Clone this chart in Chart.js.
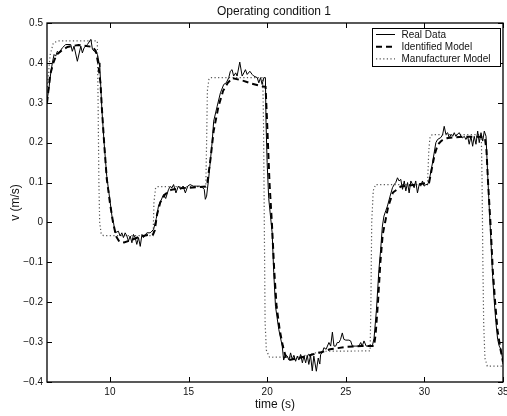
<!DOCTYPE html>
<html>
<head>
<meta charset="utf-8">
<script src="https://cdn.jsdelivr.net/npm/chart.js@4.4.0/dist/chart.umd.min.js"></script>
<style>
  body { margin: 0; background: #fff; }
  #myChart { display: block; }
</style>
</head>
<body>
<canvas id="myChart" width="507" height="416"></canvas>
<script>

const realT = [6.0, 6.13, 6.24, 6.34, 6.45, 6.55, 6.66, 6.76, 6.98, 7.19, 7.51, 7.61, 7.72, 7.93, 8.15, 8.25, 8.36, 8.57, 8.79, 8.89, 9.0, 9.21, 9.31,
    9.36, 9.49, 9.63, 9.80, 10.02, 10.15, 10.23, 10.33, 10.54, 10.65, 10.76, 10.86, 10.97, 11.08, 11.18, 11.29, 11.40, 11.50, 11.61, 11.71, 11.82, 11.93, 12.04, 12.14, 12.35, 12.56, 12.67,
    12.78, 12.95, 13.09, 13.25, 13.41, 13.55, 13.73, 13.84, 13.95, 14.05, 14.2, 14.35, 14.5, 14.65, 14.8, 14.95, 15.1, 15.3, 15.5, 15.7, 15.9, 16.0, 16.07,
    16.15, 16.28, 16.5, 16.6, 16.82, 17.03, 17.24, 17.4, 17.56, 17.66, 17.77, 17.87, 18.0, 18.09, 18.26, 18.41, 18.52, 18.62, 18.73, 18.9, 19.05, 19.15, 19.37, 19.47, 19.58, 19.68, 19.79, 19.89,
    19.93, 20.0, 20.1, 20.32, 20.42, 20.53, 20.74, 20.96, 21.05, 21.17, 21.28, 21.39, 21.49, 21.60, 21.7, 21.81, 21.92, 22.02, 22.13, 22.24, 22.34, 22.45, 22.55, 22.65, 22.76, 22.87, 22.97, 23.13, 23.25, 23.35,
    23.4, 23.51, 23.61, 23.75, 23.93, 24.04, 24.15, 24.25, 24.36, 24.46, 24.57, 24.67, 24.78, 24.88, 25.0, 25.2, 25.31, 25.42, 25.6, 25.84, 25.95, 26.05, 26.16, 26.3, 26.69,
    26.8, 26.95, 27.11, 27.22, 27.33, 27.43, 27.55, 27.65, 27.82, 27.97, 28.08, 28.18, 28.29, 28.39, 28.5, 28.61, 28.72, 28.82, 28.93, 29.03, 29.14, 29.25, 29.35, 29.45, 29.56, 29.67, 29.77, 29.88, 29.98, 30.1, 30.2, 30.3,
    30.52, 30.73, 30.84, 31.05, 31.16, 31.26, 31.37, 31.48, 31.58, 31.7, 31.8, 31.9, 32.0, 32.1, 32.22, 32.33, 32.43, 32.54, 32.64, 32.75, 32.85, 32.96, 33.07, 33.17, 33.28, 33.39, 33.49, 33.6, 33.71, 33.81, 33.92,
    34.03, 34.13, 34.24, 34.34, 34.45, 34.55, 34.66, 34.76, 34.87, 34.98, 35.0];
const realV = [0.305, 0.338, 0.375, 0.40, 0.421, 0.417, 0.429, 0.425, 0.438, 0.446, 0.446, 0.429, 0.442, 0.404, 0.442, 0.425, 0.438, 0.446, 0.459, 0.434, 0.429, 0.421, 0.40,
    0.39, 0.283, 0.20, 0.116, 0.05, 0.01, 0.0, -0.026, -0.022, -0.034, -0.026, -0.038, -0.026, -0.034, -0.047, -0.034, -0.051, -0.030, -0.038, -0.055, -0.038, -0.060, -0.030, -0.038, -0.026, -0.026, -0.022,
    -0.017, 0.01, 0.041, 0.055, 0.07, 0.06, 0.083, 0.09, 0.087, 0.095, 0.074, 0.091, 0.083, 0.091, 0.074, 0.091, 0.095, 0.091, 0.091, 0.091, 0.087, 0.083, 0.058,
    0.066, 0.11, 0.2, 0.254, 0.291, 0.325, 0.346, 0.35, 0.363, 0.379, 0.383, 0.367, 0.375, 0.367, 0.402, 0.367, 0.375, 0.383, 0.371, 0.379, 0.371, 0.367, 0.363, 0.35, 0.363, 0.346, 0.363, 0.363,
    0.25, 0.15, 0.06, -0.026, -0.126, -0.21, -0.268, -0.31, -0.345, -0.331, -0.335, -0.345, -0.327, -0.343, -0.333, -0.348, -0.335, -0.345, -0.331, -0.352, -0.335, -0.352, -0.333, -0.356, -0.333, -0.372, -0.335, -0.373, -0.34, -0.355,
    -0.331, -0.327, -0.314, -0.318, -0.301, -0.31, -0.275, -0.31, -0.31, -0.301, -0.301, -0.293, -0.277, -0.293, -0.295, -0.295, -0.297, -0.31, -0.31, -0.31, -0.301, -0.31, -0.297, -0.31, -0.31,
    -0.29, -0.22, -0.118, -0.068, -0.009, 0.016, 0.03, 0.041, 0.066, 0.087, 0.095, 0.1, 0.112, 0.104, 0.108, 0.083, 0.104, 0.079, 0.1, 0.074, 0.104, 0.095, 0.087, 0.104, 0.074, 0.095, 0.091, 0.104, 0.091, 0.095, 0.095, 0.104,
    0.15, 0.2, 0.208, 0.213, 0.22, 0.241, 0.221, 0.225, 0.212, 0.221, 0.216, 0.225, 0.216, 0.221, 0.225, 0.216, 0.212, 0.216, 0.208, 0.216, 0.196, 0.216, 0.191, 0.216, 0.196, 0.229, 0.2, 0.225, 0.204, 0.229, 0.216,
    0.116, 0.033, -0.051, -0.135, -0.201, -0.251, -0.293, -0.31, -0.318, -0.343, -0.355];

// identified model (dashed)
const identT = [6.0, 6.2, 6.4, 6.6, 6.9, 7.3, 8.0, 8.9, 9.1, 9.25, 9.4, 9.5, 9.65, 9.8, 10.0, 10.2, 10.4, 10.6, 10.9, 11.3, 11.8, 12.3, 12.75,
    12.85, 13.0, 13.2, 13.5, 13.9, 14.5, 15.5, 16.1, 16.2, 16.4, 16.6, 16.9, 17.2, 17.5, 17.8, 18.5, 19.0, 19.6, 19.9,
    20.0, 20.15, 20.3, 20.45, 20.6, 20.8, 21.0, 21.2, 21.4, 22.0, 22.5, 23.0, 23.5, 24.0, 25.0, 26.0, 26.8,
    26.9, 27.05, 27.2, 27.35, 27.5, 27.7, 28.0, 28.5, 29.5, 30.3, 30.45, 30.65, 30.85, 31.1, 31.5, 32.5, 33.5, 33.85,
    33.95, 34.05, 34.2, 34.35, 34.5, 34.65, 34.85, 35.0];
const identV = [0.30, 0.37, 0.40, 0.42, 0.43, 0.44, 0.445, 0.44, 0.43, 0.40, 0.35, 0.28, 0.19, 0.11, 0.05, 0.0, -0.035, -0.048, -0.05, -0.045, -0.037, -0.032, -0.03,
    -0.02, 0.02, 0.05, 0.07, 0.082, 0.086, 0.088, 0.09, 0.1, 0.16, 0.23, 0.29, 0.33, 0.35, 0.362, 0.355, 0.348, 0.342, 0.34,
    0.25, 0.1, 0.0, -0.12, -0.21, -0.27, -0.31, -0.34, -0.345, -0.34, -0.335, -0.33, -0.325, -0.318, -0.312, -0.31, -0.31,
    -0.28, -0.2, -0.1, -0.03, 0.0, 0.04, 0.075, 0.09, 0.095, 0.1, 0.13, 0.17, 0.195, 0.205, 0.212, 0.215, 0.215, 0.212,
    0.18, 0.1, 0.0, -0.12, -0.2, -0.27, -0.32, -0.35];

// manufacturer model (dotted)
const manuT = [6.0, 6.2, 6.4, 6.7, 9.2, 9.25, 9.3, 9.35, 9.45, 9.6, 12.75, 12.8, 12.9, 13.0, 16.1, 16.15, 16.2, 16.3, 16.4,
    19.72, 19.77, 19.82, 19.87, 19.95, 20.15, 22.0, 23.5, 26.55, 26.6, 26.65, 26.75, 26.9,
    30.2, 30.28, 30.36, 30.5, 33.62, 33.67, 33.72, 33.77, 33.85, 34.0, 35.0];
const manuV = [0.33, 0.42, 0.45, 0.455, 0.455, 0.3, 0.1, 0.0, -0.03, -0.033, -0.033, 0.05, 0.085, 0.09, 0.09, 0.2, 0.33, 0.36, 0.363,
    0.363, 0.25, 0.0, -0.25, -0.32, -0.338, -0.337, -0.323, -0.322, -0.2, 0.0, 0.08, 0.095,
    0.095, 0.18, 0.215, 0.22, 0.22, 0.1, -0.1, -0.25, -0.34, -0.36, -0.36];

const xTicks = [10, 15, 20, 25, 30, 35];
const yTicks = [-0.4, -0.3, -0.2, -0.1, 0, 0.1, 0.2, 0.3, 0.4, 0.5];
const chartTitle = 'Operating condition 1';

const fontFamily = '"Liberation Sans", Arial, Helvetica, sans-serif';

function toPoints(ts, vs) {
    return ts.map((t, i) => ({ x: t, y: vs[i] }));
}

function fmtY(v) {
    if (Math.abs(v) < 1e-9) return '0';
    return (v < 0 ? '\u2212' : '') + Math.abs(v).toFixed(1);
}

// box round the plot, inward ticks on all 4 sides, title over the plot, legend in the corner
const frameAndLegend = {
    id: 'frameAndLegend',
    afterDatasetsDraw(chart) {
        const ctx = chart.ctx;
        const a = chart.chartArea;
        const xs = chart.scales.x;
        const ys = chart.scales.y;
        const L = Math.round(a.left), R = Math.round(a.right), T = Math.round(a.top), B = Math.round(a.bottom);
        ctx.save();
        ctx.strokeStyle = '#000';
        ctx.lineWidth = 1.3;
        ctx.strokeRect(L, T, R - L, B - T);
        ctx.lineWidth = 1;
        ctx.beginPath();
        xTicks.forEach(v => {
            const px = Math.round(xs.getPixelForValue(v)) + 0.5;
            ctx.moveTo(px, B); ctx.lineTo(px, B - 5);
            ctx.moveTo(px, T); ctx.lineTo(px, T + 5);
        });
        yTicks.forEach(v => {
            const py = Math.round(ys.getPixelForValue(v)) + 0.5;
            ctx.moveTo(L, py); ctx.lineTo(L + 5, py);
            ctx.moveTo(R, py); ctx.lineTo(R - 5, py);
        });
        ctx.stroke();

        // title, centred on the plot box
        ctx.fillStyle = '#111';
        ctx.font = '12px ' + fontFamily;
        ctx.textAlign = 'center';
        ctx.textBaseline = 'middle';
        ctx.fillText(chartTitle, (a.left + a.right) / 2 - 1, 12);

        // legend
        const bx = 372.5, by = 28.5, bw = 128, bh = 38;
        ctx.fillStyle = '#fff';
        ctx.fillRect(bx, by, bw, bh);
        ctx.strokeStyle = '#000';
        ctx.lineWidth = 1;
        ctx.strokeRect(bx, by, bw, bh);
        ctx.font = '10px ' + fontFamily;
        ctx.textBaseline = 'middle';
        ctx.textAlign = 'left';
        chart.data.datasets.forEach((ds, i) => {
            const y = 34.5 + i * 12.2;
            ctx.save();
            ctx.strokeStyle = ds.borderColor;
            ctx.lineWidth = ds.borderWidth;
            ctx.setLineDash(ds.borderDash || []);
            ctx.beginPath();
            ctx.moveTo(376, y);
            ctx.lineTo(395, y);
            ctx.stroke();
            ctx.restore();
            ctx.fillStyle = '#111';
            ctx.fillText(ds.label, 401.5, y + 0.5);
        });
        ctx.restore();
    }
};

const chart = new Chart(document.getElementById('myChart').getContext('2d'), {
    type: 'line',
    data: {
        datasets: [
            {
                label: 'Real Data',
                data: toPoints(realT, realV),
                borderColor: '#000',
                borderWidth: 1,
                pointRadius: 0,
                tension: 0
            },
            {
                label: 'Identified Model',
                data: toPoints(identT, identV),
                borderColor: '#000',
                borderWidth: 2,
                borderDash: [6, 4],
                pointRadius: 0,
                tension: 0
            },
            {
                label: 'Manufacturer Model',
                data: toPoints(manuT, manuV),
                borderColor: '#555',
                borderWidth: 1.2,
                borderDash: [1.2, 2.4],
                pointRadius: 0,
                tension: 0
            }
        ]
    },
    options: {
        responsive: false,
        animation: false,
        layout: { padding: { left: 0, right: 4, top: 23, bottom: 0 } },
        plugins: {
            legend: { display: false },
            tooltip: { enabled: false },
            title: { display: false }
        },
        scales: {
            x: {
                type: 'linear',
                min: 6,
                max: 35,
                afterBuildTicks: s => { s.ticks = xTicks.map(v => ({ value: v })); },
                grid: { display: false, drawTicks: false },
                border: { display: false },
                ticks: {
                    padding: 4,
                    color: '#111',
                    maxRotation: 0,
                    autoSkip: false,
                    font: { family: fontFamily, size: 10 }
                },
                title: {
                    display: true,
                    text: 'time (s)',
                    color: '#111',
                    font: { family: fontFamily, size: 12 },
                    padding: { top: 0, bottom: 4 }
                },
                afterFit: s => { s.height = 34; s.paddingLeft = 0; s.paddingRight = 0; }
            },
            y: {
                type: 'linear',
                min: -0.4,
                max: 0.5,
                afterBuildTicks: s => { s.ticks = yTicks.map(v => ({ value: v })); },
                grid: { display: false, drawTicks: false },
                border: { display: false },
                ticks: {
                    padding: 4,
                    color: '#111',
                    autoSkip: false,
                    font: { family: fontFamily, size: 10 },
                    callback: v => fmtY(v)
                },
                title: {
                    display: true,
                    text: 'v (m/s)',
                    color: '#111',
                    font: { family: fontFamily, size: 12 },
                    padding: { top: 8, bottom: 0 }
                },
                afterFit: s => { s.width = 47; s.paddingTop = 0; s.paddingBottom = 0; }
            }
        }
    },
    plugins: [frameAndLegend]
});
</script>
</body>
</html>
